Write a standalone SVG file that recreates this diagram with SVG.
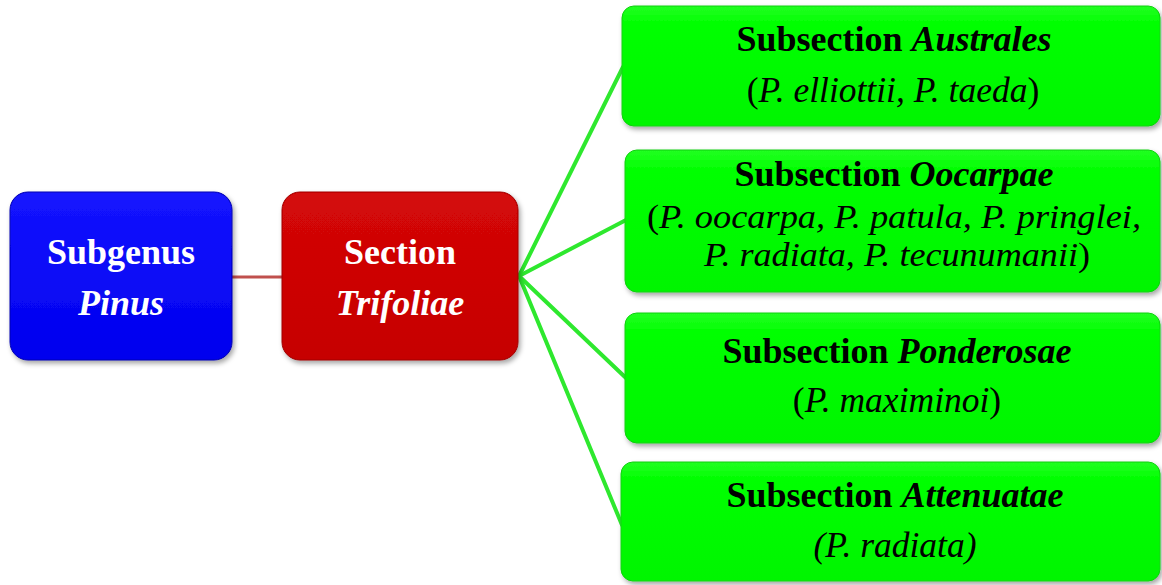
<svg xmlns="http://www.w3.org/2000/svg" width="1162" height="585" viewBox="0 0 1162 585">
  <defs>
    <linearGradient id="gBlue" x1="0" y1="0" x2="0" y2="1">
      <stop offset="0" stop-color="#1414ff"/>
      <stop offset="1" stop-color="#0000ee"/>
    </linearGradient>
    <linearGradient id="gRed" x1="0" y1="0" x2="0" y2="1">
      <stop offset="0" stop-color="#d40808"/>
      <stop offset="1" stop-color="#c60000"/>
    </linearGradient>
    <linearGradient id="gGreen" x1="0" y1="0" x2="0" y2="1">
      <stop offset="0" stop-color="#22ff22"/>
      <stop offset="0.15" stop-color="#00ff00"/>
      <stop offset="1" stop-color="#00f500"/>
    </linearGradient>
    <filter id="shadow" x="-10%" y="-10%" width="120%" height="125%">
      <feDropShadow dx="2" dy="3" stdDeviation="2.5" flood-color="#000" flood-opacity="0.35"/>
    </filter>
  </defs>
  <style>
    .big { rx: 18px; ry: 18px; filter: url(#shadow); }
    .sub { rx: 12px; ry: 12px; fill: url(#gGreen); filter: url(#shadow); stroke: #10d010; stroke-width: 1; }
    .wt { font-family: "Liberation Serif", "Times New Roman", serif; font-size: 36px; font-weight: bold; fill: #ffffff; text-anchor: middle; }
    .tt { font-family: "Liberation Serif", "Times New Roman", serif; font-size: 36px; font-weight: bold; fill: #000000; text-anchor: middle; }
    .sp { font-family: "Liberation Serif", "Times New Roman", serif; font-size: 35.5px; fill: #000000; text-anchor: middle; }
    .sm { font-size: 34px; }
    .it { font-style: italic; }
    .gl { stroke: #2ee82e; stroke-width: 4; fill: none; stroke-linecap: round; }
    .rl { stroke: #c0504d; stroke-width: 3; fill: none; }
  </style>
  <rect width="1162" height="585" fill="#ffffff"/>

  <g id="connectors">
    <line class="rl" x1="232" y1="277" x2="283" y2="277"/>
    <line class="gl" x1="519" y1="276" x2="623" y2="67"/>
    <line class="gl" x1="519" y1="276" x2="626" y2="220"/>
    <line class="gl" x1="519" y1="276" x2="626" y2="378"/>
    <line class="gl" x1="519" y1="276" x2="622" y2="525"/>
  </g>

  <g id="subgenus">
    <rect class="big" x="10" y="192" width="222" height="168" fill="url(#gBlue)" stroke="#0000b0" stroke-width="1"/>
    <text class="wt" x="121" y="264">Subgenus</text>
    <text class="wt it" x="121" y="315">Pinus</text>
  </g>

  <g id="section">
    <rect class="big" x="282" y="192" width="236" height="168" fill="url(#gRed)" stroke="#a00000" stroke-width="1"/>
    <text class="wt" x="400" y="264">Section</text>
    <text class="wt it" x="400" y="315">Trifoliae</text>
  </g>

  <g id="australes">
    <rect class="sub" x="622" y="6" width="538" height="120"/>
    <text class="tt" x="894" y="51">Subsection <tspan class="it">Australes</tspan></text>
    <text class="sp" x="893" y="102">(<tspan class="it">P. elliottii, P. taeda</tspan>)</text>
  </g>

  <g id="oocarpae">
    <rect class="sub" x="625" y="150" width="535" height="142"/>
    <text class="tt" x="894" y="186">Subsection <tspan class="it">Oocarpae</tspan></text>
    <text class="sp sm" x="894" y="228" textLength="494" lengthAdjust="spacingAndGlyphs">(<tspan class="it">P. oocarpa, P. patula, P. pringlei,</tspan></text>
    <text class="sp sm" x="897" y="266" textLength="386" lengthAdjust="spacingAndGlyphs"><tspan class="it">P. radiata, P. tecunumanii</tspan>)</text>
  </g>

  <g id="ponderosae">
    <rect class="sub" x="625" y="313" width="535" height="130"/>
    <text class="tt" x="897" y="363">Subsection <tspan class="it">Ponderosae</tspan></text>
    <text class="sp" x="897" y="412">(<tspan class="it">P. maximinoi</tspan>)</text>
  </g>

  <g id="attenuatae">
    <rect class="sub" x="621" y="462" width="539" height="119"/>
    <text class="tt" x="895" y="507">Subsection <tspan class="it">Attenuatae</tspan></text>
    <text class="sp it" x="895" y="557">(P. radiata)</text>
  </g>
</svg>
